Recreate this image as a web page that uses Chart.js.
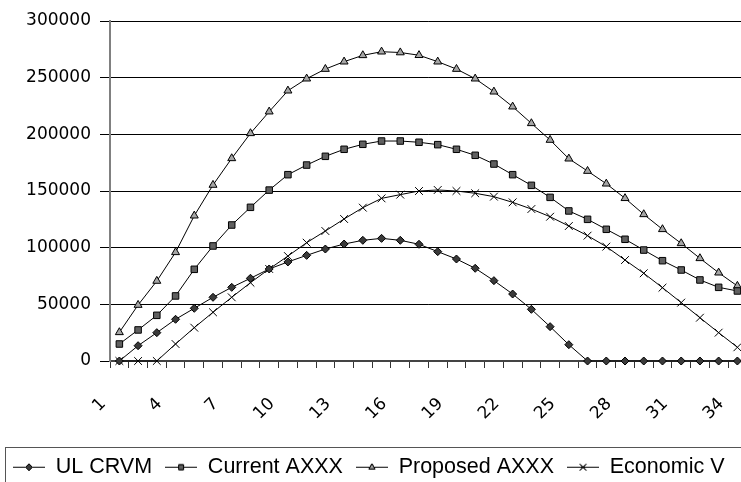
<!DOCTYPE html>
<html>
<head>
<meta charset="utf-8">
<script src="https://cdn.jsdelivr.net/npm/chart.js@4.4.1/dist/chart.umd.min.js"></script>
<style>
  html, body { margin: 0; padding: 0; overflow: hidden; background: #fff; }
  #wrap { width: 778px; height: 500px; }
</style>
</head>
<body>
<div id="wrap"><canvas id="chart" width="778" height="500"></canvas></div>
<script>
//-----------------------------------------------------------------------------
// Values, one array per series.
//-----------------------------------------------------------------------------

const years = ["1", "2", "3", "4", "5", "6", "7", "8", "9", "10", "11", "12",
  "13", "14", "15", "16", "17", "18", "19", "20", "21", "22", "23", "24",
  "25", "26", "27", "28", "29", "30", "31", "32", "33", "34"];

const shownYears = ["1", "4", "7", "10", "13", "16", "19", "22", "25", "28", "31", "34"];

const yTicks = [0, 50000, 100000, 150000, 200000, 250000, 300000];

const ulCrvm = [0, 13500, 25000, 36800, 46500, 56200, 65000, 73000, 81200,
  87400, 93200, 98800, 103200, 106500, 108200, 106500, 103000, 96500, 90000,
  81800, 70900, 59100, 45600, 30300, 14400, 0, 0, 0, 0, 0, 0, 0, 0, 0];

const currentAxxx = [15000, 27400, 40300, 57400, 80900, 101500, 120000, 135600,
  150800, 164400, 172900, 180600, 186800, 191200, 194100, 194100, 193000,
  190900, 186800, 181500, 173800, 164400, 155000, 144400, 132400, 125000,
  116200, 107400, 97900, 88500, 80300, 71500, 65000, 61800];

const proposedAxxx = [25300, 49400, 70600, 95900, 128200, 155300, 178800,
  200900, 220000, 238500, 249100, 257600, 264100, 269700, 272900, 272200,
  269800, 264100, 257600, 249100, 237600, 224400, 209700, 195000, 178500,
  167600, 156400, 143600, 129400, 116200, 103800, 90600, 77900, 66200];

const economicV = [0, 0, 0, 15000, 29400, 43000, 56200, 69100, 81200, 92600,
  104400, 114700, 125300, 135300, 143500, 146800, 150000, 150900, 150000,
  148000, 145000, 140000, 134100, 127300, 119100, 110600, 100900, 89100,
  77400, 64700, 51500, 38200, 25000, 12100];

//-----------------------------------------------------------------------------
// Legend icons: a short line with the series marker in the middle.
//-----------------------------------------------------------------------------

function legendIcon(style, fill) {
  const c = document.createElement("canvas");
  c.width = 32;
  c.height = 12;
  const g = c.getContext("2d");
  g.strokeStyle = "#000";
  g.lineWidth = 1;
  g.beginPath();
  g.moveTo(0, 6.5);
  g.lineTo(32, 6.5);
  g.stroke();
  Chart.helpers.drawPoint(g, {
    pointStyle: style,
    radius: style === "crossRot" ? 4.5 : 3.5,
    borderWidth: 1,
  }, 16, 6.5);
  g.fillStyle = fill;
  g.fill();
  g.stroke();
  return c;
}

//-----------------------------------------------------------------------------
// Box round the legend (its right and lower edges fall off the picture).
//-----------------------------------------------------------------------------

const legendBox = {
  id: "legendBox",
  afterDraw(chart) {
    const lg = chart.legend;
    const ctx = chart.ctx;
    const top = Math.round(lg.top + 3.5) + 0.5;
    ctx.save();
    ctx.strokeStyle = "#555";
    ctx.lineWidth = 1;
    ctx.strokeRect(5.5, top, chart.width, chart.height);
    ctx.restore();
  },
};

function series(label, data, style, fill, radius) {
  return {
    label: label,
    data: data,
    borderColor: "#000",
    borderWidth: 1,
    pointStyle: style,
    pointRadius: radius,
    pointBackgroundColor: fill,
    pointBorderColor: "#000",
    pointBorderWidth: 1,
    tension: 0,
    clip: false,
    icon: legendIcon(style, fill),
  };
}

const ctx = document.getElementById("chart").getContext("2d");

new Chart(ctx, {
  type: "line",
  data: {
    labels: years,
    datasets: [
      series("UL CRVM", ulCrvm, "rectRot", "#3a3a3a", 4),
      series("Current AXXX", currentAxxx, "rect", "#606060", 4.6),
      series("Proposed AXXX", proposedAxxx, "triangle", "#a6a6a6", 4.6),
      series("Economic V", economicV, "crossRot", "#000", 5.5),
    ],
  },
  options: {
    responsive: false,
    animation: false,
    layout: { padding: { top: 21, right: 13, bottom: 12.5, left: 0 } },
    scales: {
      x: {
        offset: true,
        grid: {
          offset: true,
          drawOnChartArea: false,
          drawTicks: true,
          tickLength: 7,
          tickColor: "#333",
        },
        border: { color: "#444", width: 2 },
        ticks: {
          autoSkip: false,
          maxRotation: 45,
          minRotation: 45,
          padding: 26,
          labelOffset: -16,
          color: "#000",
          font: { family: "DejaVu Sans", size: 17 },
          callback: function (value) {
            const label = this.getLabelForValue(value);
            return shownYears.includes(label) ? label : "";
          },
        },
        afterFit: (scale) => { scale.height = 82; },
      },
      y: {
        min: yTicks[0],
        max: yTicks[yTicks.length - 1],
        grid: {
          color: "#000",
          lineWidth: 1,
          tickLength: 10,
          tickColor: "#000",
        },
        border: { color: "#808080", width: 2 },
        ticks: {
          stepSize: yTicks[1] - yTicks[0],
          padding: 9,
          color: "#000",
          font: { family: "DejaVu Sans", size: 17 },
          callback: (value) => String(value),
        },
        afterFit: (scale) => { scale.width = 110; },
      },
    },
    plugins: {
      tooltip: { enabled: false },
      legend: {
        position: "bottom",
        align: "start",
        labels: {
          usePointStyle: true,
          pointStyleWidth: 32,
          padding: 13,
          color: "#000",
          font: { family: "Liberation Sans", size: 21.5 },
          generateLabels: (chart) =>
            Chart.defaults.plugins.legend.labels.generateLabels(chart).map((item) => {
              item.pointStyle = chart.data.datasets[item.datasetIndex].icon;
              return item;
            }),
        },
      },
    },
  },
  plugins: [legendBox],
});
</script>
</body>
</html>
